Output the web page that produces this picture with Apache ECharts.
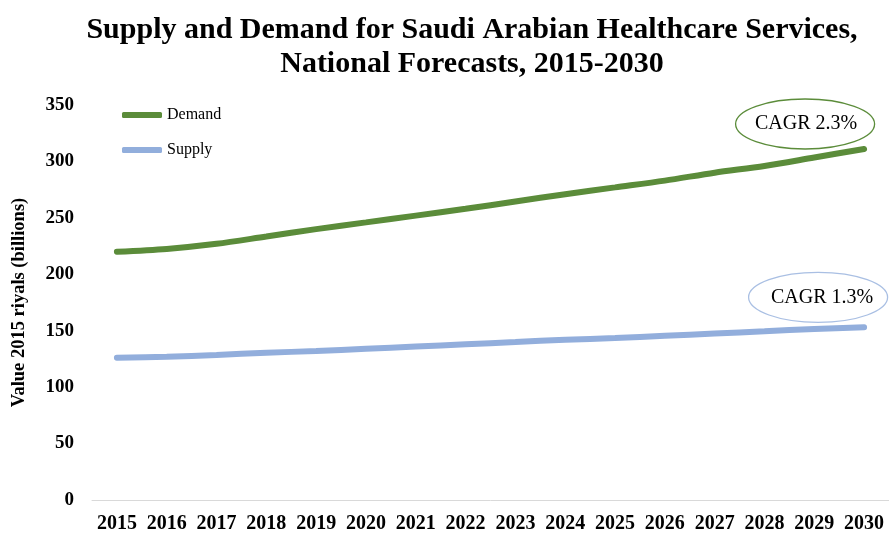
<!DOCTYPE html>
<html><head><meta charset="utf-8">
<script src="https://cdn.jsdelivr.net/npm/echarts@6/dist/echarts.min.js"></script>
<style>html,body{margin:0;padding:0;background:#fff}#c{width:889px;height:533px}</style>
</head><body><div id="c"></div>
<script>
const years = ['2015','2016','2017','2018','2019','2020','2021','2022','2023','2024','2025','2026','2027','2028','2029','2030'];
const demand = [220, 222.5, 227, 233.5, 240, 246, 252, 258, 264.5, 271, 277, 283, 290, 296, 303.5, 311];
const supply = [126, 127, 128.5, 130.5, 132, 134, 136, 138, 140, 142, 143.5, 145.5, 147.5, 149.5, 151.5, 153];
const cagrLabels = ['CAGR 2.3%', 'CAGR 1.3%'];
const F = '"Liberation Serif", "Times New Roman", serif';
const GREEN = '#5B8C3A', BLUE = '#92AEDC';
const chart = echarts.init(document.getElementById('c'));
chart.setOption({
  animation: false,
  title: {
    text: 'Supply and Demand for Saudi Arabian Healthcare Services,\nNational Forecasts, 2015-2030',
    left: 467, textAlign: 'center', top: 8,
    textStyle: {fontFamily: F, fontWeight: 'bold', fontSize: 30, lineHeight: 34, color: '#000'}
  },
  legend: {
    orient: 'vertical', left: 117, top: 102, itemWidth: 40, itemHeight: 6, itemGap: 19,
    icon: 'roundRect',
    data: ['Demand', 'Supply'],
    textStyle: {fontFamily: F, fontSize: 16, color: '#000'}
  },
  grid: {left: 92, right: 0, top: 105, bottom: 33, containLabel: false, outerBoundsMode: 'none'},
  xAxis: {
    type: 'category', data: years, boundaryGap: true,
    axisLine: {lineStyle: {color: '#d9d9d9', width: 1}},
    axisTick: {show: false},
    axisLabel: {fontFamily: F, fontWeight: 'bold', fontSize: 20, color: '#000', margin: 14, interval: 0}
  },
  yAxis: {
    type: 'value', min: 0, max: 350, interval: 50,
    name: 'Value 2015 riyals (billions)', nameLocation: 'middle', nameGap: 63, nameRotate: 90,
    nameMoveOverlap: false,
    nameTextStyle: {fontFamily: F, fontWeight: 'bold', fontSize: 18.5, color: '#000'},
    splitLine: {show: false}, axisLine: {show: false}, axisTick: {show: false},
    axisLabel: {fontFamily: F, fontWeight: 'bold', fontSize: 19, color: '#000', margin: 18}
  },
  series: [
    {name: 'Demand', type: 'line', data: demand, smooth: 0.3, symbol: 'none',
     lineStyle: {color: GREEN, width: 6, cap: 'round'}, itemStyle: {color: GREEN}},
    {name: 'Supply', type: 'line', data: supply, smooth: 0.3, symbol: 'none',
     lineStyle: {color: BLUE, width: 6, cap: 'round'}, itemStyle: {color: BLUE}}
  ]
});
const last = years.length - 1;
const pD = chart.convertToPixel({seriesIndex: 0}, [last, demand[last]]);
const pS = chart.convertToPixel({seriesIndex: 1}, [last, supply[last]]);
function ann(p, dx, dy, color, text, tdx) {
  return {type: 'group', x: p[0] + dx, y: p[1] + dy, children: [
    {type: 'ellipse', shape: {cx: 0, cy: 0, rx: 69.5, ry: 25}, style: {fill: '#fff', stroke: color, lineWidth: 1.3}},
    {type: 'text', x: tdx, y: 0, style: {text: text, font: '20px ' + F, fill: '#000', align: 'center', verticalAlign: 'middle'}}
  ]};
}
chart.setOption({graphic: [
  ann(pD, -59, -25, GREEN, cagrLabels[0], 1),
  ann(pS, -46, -30, '#A9BFE3', cagrLabels[1], 4)
]});
</script></body></html>
